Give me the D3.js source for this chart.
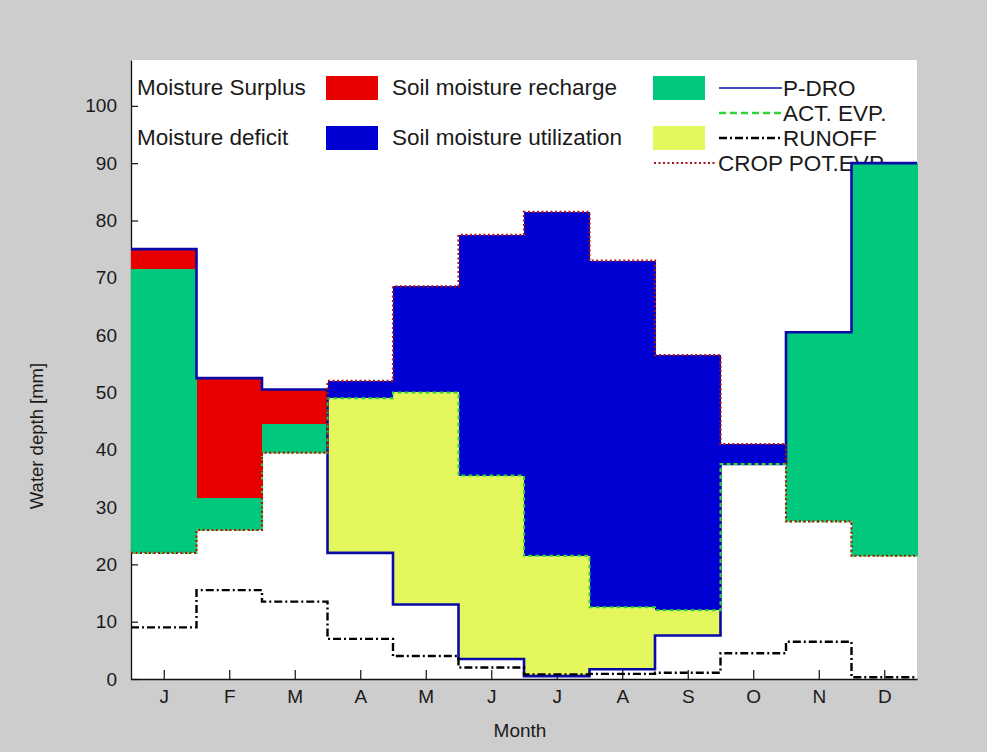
<!DOCTYPE html>
<html>
<head>
<meta charset="utf-8">
<script src="https://cdn.jsdelivr.net/npm/d3@7"></script>
<style>
  html, body { margin: 0; padding: 0; background: #cdcdcd; }
  svg { display: block; }
  text { font-family: "Liberation Sans", Arial, sans-serif; fill: #1a1a1a; }
</style>
</head>
<body>
<svg id="chart" width="987" height="752"></svg>
<script>
// Monthly water balance (mm)
const months = ["J", "F", "M", "A", "M", "J", "J", "A", "S", "O", "N", "D"];
const pDro = [75, 52.5, 50.5, 22, 13, 3.5, 0.5, 1.7, 7.6, 37.5, 60.5, 90];
const actEvp = [22, 26, 39.5, 49, 50, 35.5, 21.5, 12.5, 12, 37.5, 27.5, 21.5];
const cropPotEvp = [22, 26, 39.5, 52, 68.5, 77.5, 81.5, 73, 56.5, 41, 27.5, 21.5];
const runoff = [9, 15.5, 13.5, 7, 4, 2, 0.8, 0.9, 1.1, 4.5, 6.5, 0.3];
const recharge = [49.5, 5.5, 5, 0, 0, 0, 0, 0, 0, 0, 33, 68.5];
const yTicks = [0, 10, 20, 30, 40, 50, 60, 70, 80, 90, 100];

const colors = {
  surplus: "#e80000",
  deficit: "#0000d2",
  recharge: "#00c97e",
  utilization: "#e4f75c",
  pDro: "#0a0aa8",
  actEvp: "#2fd43a",
  runoff: "#000000",
  cropPotEvp: "#a8141e"
};

const svg = d3.select("#chart");
const plotLeft = 131, plotRight = 917, plotTop = 60, plotBottom = 679;

const x = d3.scaleLinear().domain([0.5, 12.5]).range([plotLeft, plotRight]);
const y = d3.scaleLinear().domain([0, 108]).range([plotBottom, plotTop]);

// figure background and axes area
svg.append("rect").attr("width", 987).attr("height", 752).attr("fill", "#cdcdcd");
svg.append("rect").attr("x", plotLeft).attr("y", plotTop)
  .attr("width", plotRight - plotLeft).attr("height", plotBottom - plotTop).attr("fill", "#ffffff");

// axes (drawn underneath the patches)
const yAxis = d3.axisLeft(y).tickValues(yTicks).tickSizeInner(-7).tickSizeOuter(0).tickPadding(14);
const xAxis = d3.axisBottom(x).tickValues(d3.range(1, 13)).tickFormat((d, i) => months[i])
  .tickSizeInner(-9).tickSizeOuter(0).tickPadding(11);

const gy = svg.append("g").attr("transform", `translate(${plotLeft},0)`).call(yAxis);
const gx = svg.append("g").attr("transform", `translate(0,${plotBottom})`).call(xAxis);
[gx, gy].forEach(g => {
  g.select(".domain").attr("stroke", "#111").attr("stroke-width", 1.3);
  g.selectAll(".tick line").attr("stroke", "#111").attr("stroke-width", 1.2);
  g.selectAll(".tick text").style("font-size", "19px").attr("fill", "#1a1a1a")
    .style("font-family", "'Liberation Sans', Arial, sans-serif");
});

svg.append("text").attr("x", 520).attr("y", 737).attr("text-anchor", "middle")
  .style("font-size", "19px").text("Month");
svg.append("text").attr("transform", "translate(43,436) rotate(-90)")
  .attr("text-anchor", "middle").style("font-size", "18.5px").text("Water depth [mm]");

// legend: fill swatches
const legendFont = "22.5px";
const fillLegend = [
  { label: "Moisture Surplus", color: colors.surplus, tx: 137, sx: 326, row: 0 },
  { label: "Soil moisture recharge", color: colors.recharge, tx: 392, sx: 653, row: 0 },
  { label: "Moisture deficit", color: colors.deficit, tx: 137, sx: 326, row: 1 },
  { label: "Soil moisture utilization", color: colors.utilization, tx: 392, sx: 653, row: 1 }
];
const leg = svg.append("g");
fillLegend.forEach(d => {
  const base = 95 + d.row * 50;
  leg.append("text").attr("x", d.tx).attr("y", base).style("font-size", legendFont).text(d.label);
  leg.append("rect").attr("x", d.sx).attr("y", base - 19).attr("width", 52).attr("height", 24)
    .attr("fill", d.color);
});

// legend: line samples
const lineLegend = [
  { label: "P-DRO", color: colors.pDro, dash: null, w: 1.3, x0: 719, x1: 782 },
  { label: "ACT. EVP.", color: colors.actEvp, dash: "7,4", w: 2.6, x0: 719, x1: 782 },
  { label: "RUNOFF", color: colors.runoff, dash: "8,3,2,3", w: 2.4, x0: 719, x1: 782 },
  { label: "CROP POT.EVP.", color: colors.cropPotEvp, dash: "2,2.5", w: 2.2, x0: 654, x1: 717 }
];
lineLegend.forEach((d, i) => {
  const base = 96 + i * 25;
  leg.append("line").attr("x1", d.x0).attr("x2", d.x1).attr("y1", base - 8).attr("y2", base - 8)
    .attr("stroke", d.color).attr("stroke-width", d.w).attr("stroke-dasharray", d.dash);
  leg.append("text").attr("x", d.x1 + 1).attr("y", base).style("font-size", legendFont).text(d.label);
});

// water balance patches, one column per month
const bands = [];
months.forEach((m, i) => {
  const p = pDro[i], a = actEvp[i], c = cropPotEvp[i], r = recharge[i];
  if (a > p) bands.push({ i, lo: p, hi: a, color: colors.utilization });
  if (c > a) bands.push({ i, lo: a, hi: c, color: colors.deficit });
  if (r > 0) bands.push({ i, lo: a, hi: a + r, color: colors.recharge });
  if (p > a + r) bands.push({ i, lo: a + r, hi: p, color: colors.surplus });
});
svg.append("g").attr("shape-rendering", "crispEdges")
  .selectAll("rect").data(bands).join("rect")
  .attr("x", d => x(d.i + 0.5))
  .attr("width", d => x(d.i + 1.5) - x(d.i + 0.5) + 0.5)
  .attr("y", d => y(d.hi))
  .attr("height", d => y(d.lo) - y(d.hi))
  .attr("fill", d => d.color);

// stair lines
const stairs = d3.line().x(d => x(d[0])).y(d => y(d[1])).curve(d3.curveStepAfter);
const stairPoints = vals => vals.map((v, i) => [i + 0.5, v]).concat([[12.5, vals[vals.length - 1]]]);

const series = [
  { vals: pDro, color: colors.pDro, w: 2.6, dash: null },
  { vals: actEvp, color: colors.actEvp, w: 2, dash: "4,3" },
  { vals: runoff, color: colors.runoff, w: 2.4, dash: "8,3,2,3" },
  { vals: cropPotEvp, color: colors.cropPotEvp, w: 2.2, dash: "2,2.5" }
];
svg.append("g").selectAll("path").data(series).join("path")
  .attr("d", d => stairs(stairPoints(d.vals)))
  .attr("fill", "none")
  .attr("stroke", d => d.color)
  .attr("stroke-width", d => d.w)
  .attr("stroke-dasharray", d => d.dash);
</script>
</body>
</html>
